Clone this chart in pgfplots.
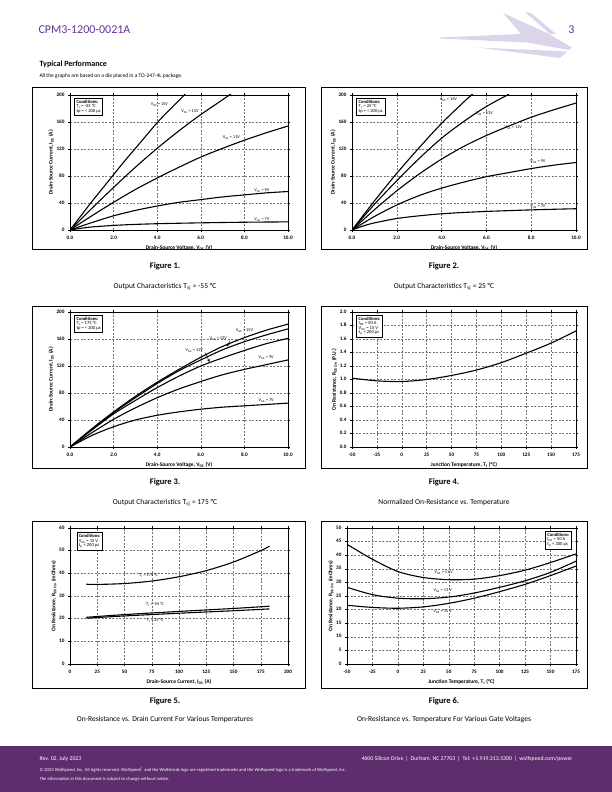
\documentclass[border=0pt]{standalone}
\usepackage{pgfplots}
\pgfplotsset{compat=1.18}
\usepackage{fontspec}
\setmainfont{Carlito}[Numbers=Lining]
\definecolor{wpurple}{RGB}{93,45,110}
\definecolor{hpurple}{RGB}{102,51,153}
\definecolor{logoc}{RGB}{220,212,234}
\newcommand{\fsz}[1]{\fontsize{#1}{#1}\selectfont}
\tikzset{
  lab/.style={font=\fsz{4.3}, inner sep=0.5pt},
  cond/.style={draw, line width=0.5pt, fill=white, font=\fsz{4.6}, align=left, inner sep=2pt},
}
\pgfplotsset{
  ds/.style={
    scale only axis, anchor=south west,
    axis line style={line width=0.6pt},
    grid=major,
    major grid style={dash pattern=on 2pt off 1.5pt, black!55, line width=0.35pt},
    tick align=outside, major tick length=2pt,
    tick style={black, line width=0.4pt},
    tick label style={font=\bfseries\fsz{5.2}},
    typeset ticklabels with strut,
    label style={font=\bfseries\fsz{5.5}},
    /pgf/number format/assume math mode=true,
    every axis plot post/.append style={black, mark=none, line width=1.1pt, smooth},
    xlabel style={yshift=2pt},
    ylabel style={yshift=-4pt},
  },
  vds/.style={xmin=0,xmax=10,ymin=0,ymax=200,xtick={0,2,4,6,8,10},ytick={0,40,...,200},
    xticklabels={0.0,2.0,4.0,6.0,8.0,10.0},
    xlabel={Drain-Source Voltage, V\textsubscript{DS} (V)},
    ylabel={Drain-Source Current, I\textsubscript{DS} (A)}},
}
\begin{document}
\begin{tikzpicture}
\path[use as bounding box] (0,0) rectangle (612pt,792pt);
\fill[white] (0,0) rectangle (612pt,792pt);
% logo
\fill[logoc] (440pt,754.5pt) -- (521pt,758pt) -- (503pt,779pt) -- (547pt,759pt) -- (572pt,744.5pt) -- (569pt,742pt) -- (527pt,749.5pt) -- (440pt,753.5pt) -- cycle;
\fill[logoc] (525pt,780pt) -- (531pt,779pt) -- (556pt,758pt) -- (550pt,758pt) -- cycle;
\fill[logoc] (478pt,744.5pt) -- (567pt,740.5pt) -- (560pt,734pt) -- cycle;
% header
\node[anchor=west, text=hpurple, font=\fsz{12}] at (35pt,762pt) {CPM3-1200-0021A};
\node[anchor=east, text=hpurple, font=\fsz{12}] at (578pt,762pt) {3};
\node[anchor=west, font=\bfseries\fsz{8}] at (36pt,728pt) {Typical Performance};
\node[anchor=west, font=\fsz{5.5}] at (36pt,716pt) {All the graphs are based on a die placed in a TO-247-4L package.};
% frames
\draw[line width=0.8pt] (32pt,543pt) rectangle (305pt,705pt);
\draw[line width=0.8pt] (321pt,543pt) rectangle (587pt,705pt);
\draw[line width=0.8pt] (32pt,324pt) rectangle (305pt,486pt);
\draw[line width=0.8pt] (321pt,324pt) rectangle (587pt,486pt);
\draw[line width=0.8pt] (32pt,104pt) rectangle (305pt,271pt);
\draw[line width=0.8pt] (321pt,104pt) rectangle (587pt,271pt);
% captions
\node[font=\bfseries\fsz{8.5}] at (165pt,526pt) {Figure 1.};
\node[font=\fsz{7.5}] at (165pt,505pt) {Output Characteristics T\textsubscript{vj} = -55 °C};
\node[font=\bfseries\fsz{8.5}] at (444pt,526pt) {Figure 2.};
\node[font=\fsz{7.5}] at (444pt,505pt) {Output Characteristics T\textsubscript{vj} = 25 °C};
\node[font=\bfseries\fsz{8.5}] at (165pt,310pt) {Figure 3.};
\node[font=\fsz{7.5}] at (165pt,289pt) {Output Characteristics T\textsubscript{vj} = 175 °C};
\node[font=\bfseries\fsz{8.5}] at (444pt,310pt) {Figure 4.};
\node[font=\fsz{7.5}] at (444pt,289pt) {Normalized On-Resistance vs. Temperature};
\node[font=\bfseries\fsz{8.5}] at (165pt,91pt) {Figure 5.};
\node[font=\fsz{7.5}] at (165pt,72pt) {On-Resistance vs. Drain Current For Various Temperatures};
\node[font=\bfseries\fsz{8.5}] at (444pt,91pt) {Figure 6.};
\node[font=\fsz{7.5}] at (444pt,72pt) {On-Resistance vs. Temperature For Various Gate Voltages};
% footer
\fill[wpurple] (0,0) rectangle (612pt,46pt);
\node[anchor=west, text=white, font=\fsz{5.8}] at (36pt,33pt) {Rev. 02, July 2023};
\node[anchor=east, text=white, font=\fsz{5.8}] at (576pt,33pt) {4600 Silicon Drive \,|\, Durham, NC 27703 \,|\, Tel: +1.919.313.5300 \,|\, wolfspeed.com/power};
\node[anchor=west, text=white, font=\fsz{4.6}] at (36pt,22pt) {© 2023 Wolfspeed, Inc. All rights reserved. Wolfspeed\textsuperscript{®} and the Wolfstreak logo are registered trademarks and the Wolfspeed logo is a trademark of Wolfspeed, Inc.};
\node[anchor=west, text=white, font=\fsz{4.6}] at (36pt,13pt) {The information in this document is subject to change without notice.};

% Figure 1
\begin{axis}[ds, vds, at={(70pt,562pt)}, width=218pt, height=135pt]
\addplot coordinates {(0,0)(0.5,21)(1,42)(1.5,62)(2,82)(2.5,102)(3,121)(3.5,140)(4,159)(4.5,176)(5,192)(5.3,202)};
\addplot coordinates {(0,0)(1,32)(2,63)(3,93)(4,121)(5,147)(6,171)(7,193)(7.4,202)};
\addplot coordinates {(0,0)(1,21)(2,41)(3,60)(4,77)(5,93)(6,108)(7,121)(8,133)(9,144)(10,154)};
\addplot coordinates {(0,0)(1,11)(2,21)(3,29)(4,35.5)(5,41)(6,45)(7,49)(8,52)(9,55)(10,57)};
\addplot coordinates {(0,0)(0.5,2.5)(1,4.5)(2,6.8)(3,8.3)(4,9.3)(5,10)(6,10.6)(7,11.1)(8,11.5)(9,11.8)(10,12)};
\node[lab] at (axis cs:4.1,186) {V\textsubscript{GS} = 15V};
\node[lab] at (axis cs:5.5,175) {V\textsubscript{GS} = 13V};
\node[lab] at (axis cs:7.4,137) {V\textsubscript{GS} = 11V};
\node[lab] at (axis cs:8.8,59) {V\textsubscript{GS} = 9V};
\node[lab] at (axis cs:8.8,16) {V\textsubscript{GS} = 7V};
\node[cond, anchor=north west] at (rel axis cs:0.02,0.98) {\textbf{Conditions:}\\T\textsubscript{J} = -55 °C\\tp = < 200 µs};
\end{axis}

% Figure 2
\begin{axis}[ds, vds, at={(352pt,562pt)}, width=224pt, height=135pt]
\addplot coordinates {(0,0)(1,43)(2,84)(3,122)(4,158)(5,190)(5.4,202)};
\addplot coordinates {(0,0)(1,38)(2,73)(3,106)(4,136)(5,161)(6,183)(7,201)};
\addplot coordinates {(0,0)(1,30)(2,58)(3,83)(4,105)(5,124)(6,140)(7,154)(8,167)(9,178)(10,188)};
\addplot coordinates {(0,0)(1,20)(2,37)(3,51)(4,62)(5,71)(6,79)(7,85)(8,91)(9,96)(10,100)};
\addplot coordinates {(0,0)(0.5,6)(1,10.5)(2,17)(3,21)(4,24)(5,26)(6,27.5)(7,28.7)(8,29.8)(9,30.7)(10,31.5)};
\node[lab] at (axis cs:4.3,193) {V\textsubscript{GS} = 15V};
\node[lab] at (axis cs:5.9,172) {V\textsubscript{GS} = 13V};
\node[lab] at (axis cs:7.2,152) {V\textsubscript{GS} = 11V};
\node[lab] at (axis cs:8.3,101) {V\textsubscript{GS} = 9V};
\node[lab] at (axis cs:8.3,35) {V\textsubscript{GS} = 7V};
\node[cond, anchor=north west] at (rel axis cs:0.02,0.98) {\textbf{Conditions:}\\T\textsubscript{J} = 25 °C\\tp = < 200 µs};
\end{axis}

% Figure 3
\begin{axis}[ds, vds, at={(70pt,345pt)}, width=218pt, height=135pt]
\addplot coordinates {(0,0)(1,27)(2,52)(3,75)(4,96)(5,115)(6,133)(7,149)(8,162)(9,173)(10,182)};
\addplot coordinates {(0,0)(1,26)(2,51)(3,73)(4,94)(5,113)(6,129)(7,144)(8,156)(9,166)(10,175)};
\addplot coordinates {(0,0)(1,25)(2,49)(3,69)(4,88)(5,105)(6,120)(7,132)(8,143)(9,153)(10,161)};
\addplot coordinates {(0,0)(1,21)(2,41)(3,58)(4,73)(5,86)(6,97)(7,107)(8,115)(9,122)(10,129)};
\addplot coordinates {(0,0)(1,17)(2,30)(3,40)(4,47)(5,52)(6,56)(7,59)(8,61)(9,63)(10,65)};
\node[lab] at (axis cs:8.0,173) {V\textsubscript{GS} = 15V};
\node[lab] at (axis cs:6.8,160) {V\textsubscript{GS} = 13V};
\draw[line width=0.4pt, -stealth] (axis cs:7.35,158) -- (axis cs:7.2,149);
\node[lab] at (axis cs:5.7,143) {V\textsubscript{GS} = 11V};
\draw[line width=0.4pt, -stealth] (axis cs:6.2,140) -- (axis cs:6.4,126);
\node[lab] at (axis cs:9.0,133) {V\textsubscript{GS} = 9V};
\node[lab] at (axis cs:9.0,69) {V\textsubscript{GS} = 7V};
\node[cond, anchor=north west] at (rel axis cs:0.02,0.98) {\textbf{Conditions:}\\T\textsubscript{J} = 175 °C\\tp = < 200 µs};
\end{axis}

% Figure 4
\begin{axis}[ds, at={(352pt,345pt)}, width=224pt, height=135pt,
  xmin=-50, xmax=175, ymin=0, ymax=2, xtick={-50,-25,...,175}, ytick={0,0.2,...,2.0},
  y tick label style={/pgf/number format/.cd,fixed,fixed zerofill,precision=1,/tikz/.cd},
  xlabel={Junction Temperature, T\textsubscript{J} (°C)},
  ylabel={On Resistance, R\textsubscript{DS On} (P.U.)}]
\addplot coordinates {(-50,1.02)(-25,0.98)(0,0.97)(25,1.0)(50,1.06)(75,1.14)(100,1.25)(125,1.39)(150,1.54)(175,1.72)};
\node[cond, anchor=north west] at (rel axis cs:0.02,0.98) {\textbf{Conditions:}\\I\textsubscript{DS} = 50 A\\V\textsubscript{GS} = 15 V\\t\textsubscript{p} < 200 µs};
\end{axis}

% Figure 5
\begin{axis}[ds, at={(70pt,128pt)}, width=218pt, height=136pt,
  xmin=0, xmax=200, ymin=0, ymax=60, xtick={0,25,...,200}, ytick={0,10,...,60},
  xlabel={Drain-Source Current, I\textsubscript{DS} (A)},
  ylabel={On Resistance, R\textsubscript{DS On} (mOhms)}]
\addplot coordinates {(15,35.2)(25,35.1)(50,35.5)(75,36.6)(100,38.5)(125,41.2)(150,45)(175,50)(183,52)};
\addplot coordinates {(15,20.6)(50,21.8)(100,23.2)(150,24.5)(183,25.5)};
\addplot coordinates {(15,20.2)(50,21.2)(100,22.4)(150,23.5)(183,24.3)};
\node[lab] at (axis cs:72,39) {T\textsubscript{J} = 175 °C};
\node[lab] at (axis cs:78,26.3) {T\textsubscript{J} = -55 °C};
\node[lab] at (axis cs:78,19) {T\textsubscript{J} = 25 °C};
\node[cond, anchor=north west] at (rel axis cs:0.03,0.97) {\textbf{Conditions:}\\V\textsubscript{GS} = 15 V\\t\textsubscript{p} < 200 µs};
\end{axis}

% Figure 6
\begin{axis}[ds, at={(347pt,128pt)}, width=229pt, height=136pt,
  xmin=-50, xmax=175, ymin=0, ymax=50, xtick={-50,-25,...,175}, ytick={0,5,...,50},
  xlabel={Junction Temperature, T\textsubscript{J} (°C)},
  ylabel={On Resistance, R\textsubscript{DS On} (mOhms)}]
\addplot coordinates {(-50,44)(-25,38.5)(0,34)(25,31.8)(50,31)(75,31.2)(100,32.5)(125,34.5)(150,37.3)(175,40.5)};
\addplot coordinates {(-50,28.2)(-25,25.5)(0,24.2)(25,24)(50,24.6)(75,26.1)(100,28.2)(125,30.6)(150,33.7)(175,37.8)};
\addplot coordinates {(-50,21.6)(-25,20.8)(0,20.5)(25,21)(50,22.3)(75,24.2)(100,26.6)(125,29.3)(150,32.5)(175,36)};
\node[lab] at (axis cs:45,33.5) {V\textsubscript{GS} = 11 V};
\node[lab] at (axis cs:44,26.8) {V\textsubscript{GS} = 13 V};
\node[lab] at (axis cs:44,19.3) {V\textsubscript{GS} = 15 V};
\node[cond, anchor=north east] at (rel axis cs:0.98,0.98) {\textbf{Conditions:}\\I\textsubscript{DS} = 50 A\\t\textsubscript{p} < 200 µs};
\end{axis}
\end{tikzpicture}
\end{document}
